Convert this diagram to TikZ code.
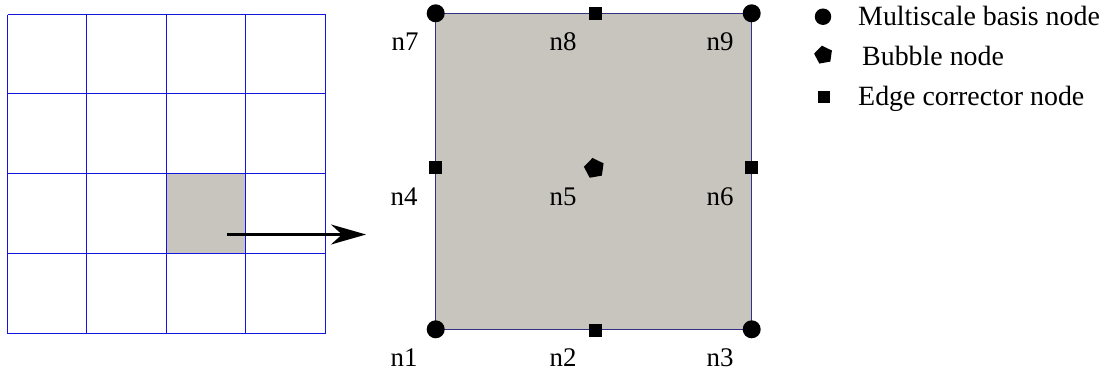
\documentclass[tikz,border=0pt]{standalone}
\usepackage{fontspec}
\setmainfont{Liberation Serif}
\usetikzlibrary{shapes.geometric,arrows.meta}
\definecolor{cellgray}{RGB}{200,197,190}
\definecolor{gridblue}{RGB}{20,20,225}
\definecolor{edgenavy}{RGB}{50,50,130}
\tikzset{
  gridline/.style={draw=gridblue,line width=1.6bp},
  basisnode/.style={circle,fill=black,inner sep=0pt,minimum size=18bp},
  edgenode/.style={rectangle,fill=black,inner sep=0pt,minimum size=13bp},
  bubblenode/.style={regular polygon,regular polygon sides=5,fill=black,inner sep=0pt,minimum size=21bp,shape border rotate=10},
  lbl/.style={anchor=base,font=\fontsize{27}{30}\selectfont,inner sep=0pt},
  legtext/.style={anchor=base west,font=\fontsize{28}{32}\selectfont,inner sep=0pt},
}
\begin{document}
\begin{tikzpicture}[x=1bp,y=-1bp]
\useasboundingbox (0,0) rectangle (1118,374);
% left grid
\fill[cellgray] (166.5,173.5) rectangle (245.5,253.5);
\draw[gridline]
  (7.5,14.5) -- (7.5,333.5)
  (86.5,14.5) -- (86.5,333.5)
  (166.5,14.5) -- (166.5,333.5)
  (245.5,14.5) -- (245.5,333.5)
  (325.5,14.5) -- (325.5,333.5)
  (7.5,14.5) -- (325.5,14.5)
  (7.5,93.5) -- (325.5,93.5)
  (7.5,173.5) -- (325.5,173.5)
  (7.5,253.5) -- (325.5,253.5)
  (7.5,333.5) -- (325.5,333.5);
% arrow
\coordinate (arrstart) at (227,234.5);
\coordinate (arrend) at (366,234.5);
\draw[line width=2.2bp,-{Stealth[length=35bp,width=20bp,inset=11bp]}] (arrstart) -- (arrend);
% element
\filldraw[fill=cellgray,draw=edgenavy,line width=1.2bp] (435.5,13.5) rectangle (751.5,329.5);
\node[basisnode] (n1) at (435.7,329.3) {};
\node[basisnode] (n3) at (751.7,329.3) {};
\node[basisnode] (n7) at (435.7,13.3) {};
\node[basisnode] (n9) at (751.7,13.3) {};
\node[edgenode] (n2) at (595.5,330) {};
\node[edgenode] (n8) at (595.5,13.3) {};
\node[edgenode] (n4) at (435.5,167.3) {};
\node[edgenode] (n6) at (751.5,167.3) {};
\node[bubblenode] (n5) at (594.3,168.3) {};
% labels
\node[lbl] (l7) at (405,50) {n7};
\node[lbl] (l8) at (563,50.5) {n8};
\node[lbl] (l9) at (720,50) {n9};
\node[lbl] (l4) at (404,205) {n4};
\node[lbl] (l5) at (563,205) {n5};
\node[lbl] (l6) at (720,205) {n6};
\node[lbl] (l1) at (404,366) {n1};
\node[lbl] (l2) at (563,366) {n2};
\node[lbl] (l3) at (720,366) {n3};
% legend
\node[basisnode,minimum size=16.5bp] (legc) at (823,16.7) {};
\node[bubblenode,minimum size=19bp] (legp) at (823.5,55) {};
\node[edgenode,minimum size=12bp] (legs) at (824,97) {};
\node[legtext] (legct) at (858,25) {Multiscale basis node};
\node[legtext] (legpt) at (862,65) {Bubble node};
\node[legtext] (legst) at (858,105) {Edge corrector node};
\end{tikzpicture}
\end{document}
